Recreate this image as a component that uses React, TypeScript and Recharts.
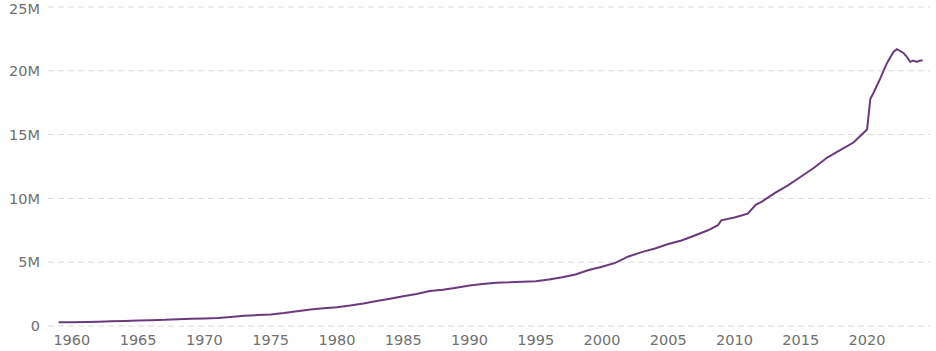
import React from 'react';
import { LineChart, Line, XAxis, YAxis, CartesianGrid } from 'recharts';

// M2 money stock, millions of dollars (decimal year, value)
const years = [
  1959, 1960, 1961, 1962, 1963, 1964, 1965, 1966, 1967, 1968, 1969,
  1970, 1971, 1972, 1973, 1974, 1975, 1976, 1977, 1978, 1979,
  1980, 1981, 1982, 1983, 1984, 1985, 1986, 1987, 1988, 1989,
  1990, 1991, 1992, 1993, 1994, 1995, 1996, 1997, 1998, 1999,
  2000, 2001, 2002, 2003, 2004, 2005, 2006, 2007, 2008, 2008.75,
  2009, 2010, 2011, 2011.6, 2012, 2013, 2014, 2015, 2016, 2017,
  2018, 2019, 2020, 2020.25, 2020.5, 2021, 2021.5, 2022, 2022.25, 2022.75,
  2023, 2023.25, 2023.5, 2023.75, 2024, 2024.2,
];
const m2 = [
  286000, 298000, 312000, 335000, 363000, 393000, 425000, 460000, 482000, 531000, 574000,
  589000, 627000, 711000, 801000, 856000, 908000, 1023000, 1164000, 1287000, 1389000,
  1477000, 1600000, 1765000, 1960000, 2128000, 2326000, 2510000, 2744000, 2845000, 2994000,
  3166000, 3290000, 3390000, 3420000, 3476000, 3500000, 3643000, 3820000, 4035000, 4385000,
  4650000, 4950000, 5450000, 5790000, 6080000, 6420000, 6700000, 7090000, 7500000, 7900000,
  8280000, 8500000, 8800000, 9500000, 9700000, 10400000, 11000000, 11700000, 12400000, 13200000,
  13800000, 14400000, 15400000, 17800000, 18300000, 19400000, 20600000, 21500000, 21700000, 21400000,
  21100000, 20700000, 20800000, 20700000, 20800000, 20800000,
];
const xTicks = [1960, 1965, 1970, 1975, 1980, 1985, 1990, 1995, 2000, 2005, 2010, 2015, 2020];
const yTicks = [0, 5000000, 10000000, 15000000, 20000000, 25000000];

const data = years.map((y, i) => ({ year: y, value: m2[i] }));

const fmtY = (v: number) => (v === 0 ? '0' : `${v / 1000000}M`);

const tickStyle = { fill: '#707070', fontSize: 14.5, fontFamily: 'DejaVu Sans' };

export default function App() {
  return (
    <div style={{ position: 'fixed', left: 0, top: 0, width: 936, height: 351, background: '#fff' }}>
      <LineChart width={936} height={351} data={data} margin={{ top: 7, right: 6, left: 0, bottom: 0 }}>
        <CartesianGrid horizontal vertical={false} stroke="#dcdcdc" strokeDasharray="6 4" />
        <XAxis
          dataKey="year"
          type="number"
          domain={[1958.2, 2024.75]}
          ticks={xTicks}
          axisLine={false}
          tickLine={false}
          height={25}
          tickMargin={3}
          tick={tickStyle}
        />
        <YAxis
          type="number"
          domain={[0, 25000000]}
          ticks={yTicks}
          tickFormatter={fmtY}
          axisLine={false}
          tickLine={false}
          width={48}
          tickMargin={2}
          tick={tickStyle}
        />
        <Line
          type="linear"
          dataKey="value"
          stroke="#6b3a7d"
          strokeWidth={2}
          dot={false}
          isAnimationActive={false}
        />
      </LineChart>
    </div>
  );
}
